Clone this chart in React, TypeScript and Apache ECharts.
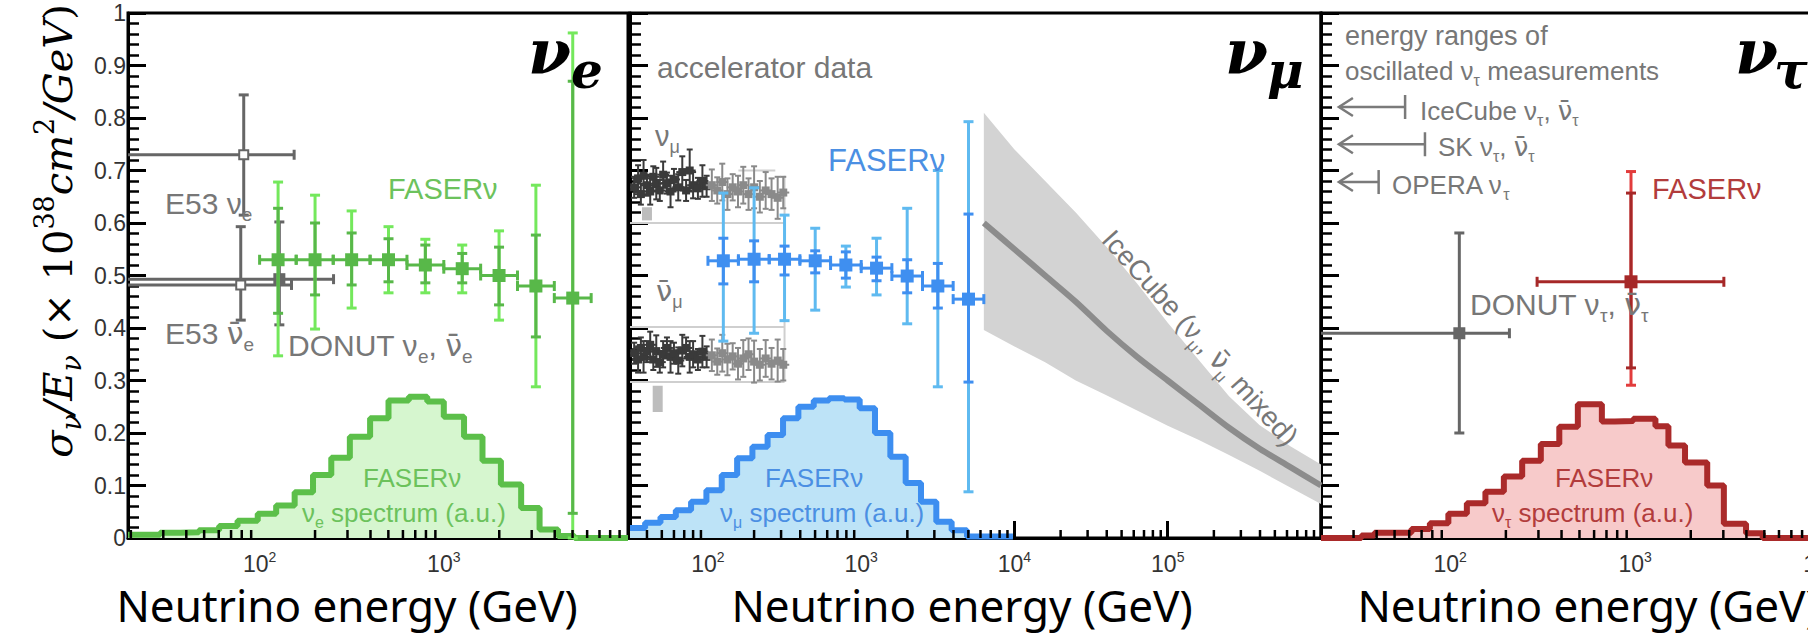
import React, { useEffect, useRef } from 'react';
import * as echarts from 'echarts';

// ---------------- data ----------------
const MINOR_MULT = [2, 3, 4, 5, 6, 7, 8, 9];
const P1_DECADES = [10, 100, 1000];
const P2_DECADES = [10, 100, 1000, 10000, 100000];
const P3_DECADES = [10, 100, 1000];

// FASERnu binning (GeV)
const FASER_X = [126, 200, 316, 501, 794, 1259, 1995, 3162, 5012];
const FASER_XLO = [100, 158, 251, 398, 631, 1000, 1585, 2512, 3981];
const FASER_XHI = [158, 251, 398, 631, 1000, 1585, 2512, 3981, 6310];

// nu_e
const NUE_Y = [0.53, 0.53, 0.53, 0.53, 0.52, 0.513, 0.5, 0.48, 0.457];
const NUE_STAT_LO = [0.428, 0.463, 0.482, 0.488, 0.486, 0.486, 0.444, 0.383, 0.047];
const NUE_STAT_HI = [0.628, 0.6, 0.581, 0.57, 0.558, 0.542, 0.554, 0.577, 0.87];
const NUE_TOT_LO = [0.347, 0.398, 0.438, 0.467, 0.467, 0.467, 0.415, 0.288, 0.0];
const NUE_TOT_HI = [0.678, 0.653, 0.623, 0.593, 0.569, 0.558, 0.585, 0.672, 0.962];

// nu_mu
const NUMU_Y = [0.528, 0.531, 0.531, 0.528, 0.52, 0.514, 0.499, 0.48, 0.455];
const NUMU_STAT_LO = [0.484, 0.488, 0.501, 0.505, 0.495, 0.49, 0.467, 0.438, 0.297];
const NUMU_STAT_HI = [0.571, 0.566, 0.556, 0.547, 0.545, 0.535, 0.53, 0.523, 0.617];
const NUMU_TOT_LO = [0.375, 0.39, 0.414, 0.434, 0.478, 0.463, 0.408, 0.288, 0.088];
const NUMU_TOT_HI = [0.657, 0.667, 0.615, 0.59, 0.556, 0.571, 0.628, 0.7, 0.793];

// nu_tau FASERnu: [x, y, xlo, xhi, statLo, statHi, totLo, totHi]
const NUTAU_FASER = [[950, 0.488, 295, 3020, 0.324, 0.657, 0.291, 0.698]];

// other experiments: [x, y, xlo, xhi, ylo, yhi, openMarker]
const E53_NUE = [82, 0.73, 10, 154, 0.615, 0.844, 1];
const E53_NUEBAR = [79, 0.482, 10, 149, 0.415, 0.593, 1];
const DONUT_NUE = [128, 0.493, 10, 252, 0.406, 0.602, 0];
const DONUT_NUTAU = [112, 0.39, 10, 209, 0.2, 0.581, 0];

// spectra (a.u.), step histograms: edges (GeV) and bin heights
const NUE_SPEC_EDGES = [19.3, 28.8, 37.2, 46.8, 60.3, 75.9, 97.7, 123, 155, 195, 245, 309, 398, 501, 646, 813, 1000, 1288, 1622, 2042, 2630, 3311, 4169, 5129, 10000];
const NUE_SPEC = [0.006, 0.01, 0.011, 0.015, 0.023, 0.033, 0.046, 0.062, 0.087, 0.12, 0.153, 0.193, 0.228, 0.262, 0.269, 0.26, 0.231, 0.193, 0.147, 0.102, 0.057, 0.016, 0.004, 0.0];
const NUMU_SPEC_EDGES = [31, 38.9, 49, 61.7, 77.6, 97.7, 123, 155, 195, 245, 309, 389, 490, 617, 776, 977, 1230, 1549, 1950, 2455, 3090, 3890, 4898, 9772];
const NUMU_SPEC = [0.019, 0.029, 0.04, 0.053, 0.069, 0.091, 0.12, 0.152, 0.174, 0.196, 0.228, 0.25, 0.262, 0.266, 0.264, 0.247, 0.2, 0.155, 0.105, 0.069, 0.031, 0.015, 0.003];
const NUTAU_SPEC_EDGES = [20, 33.1, 38.9, 61.7, 77.6, 97.7, 123, 155, 195, 245, 309, 389, 490, 661, 776, 977, 1288, 1514, 1862, 2455, 3020, 3981, 4898, 10000];
const NUTAU_SPEC = [0.0, 0.005, 0.01, 0.017, 0.028, 0.046, 0.066, 0.088, 0.117, 0.147, 0.179, 0.212, 0.255, 0.222, 0.223, 0.227, 0.213, 0.176, 0.144, 0.1, 0.027, 0.009, 0.0];

// IceCube band
const ICE_X = [6310, 10000, 15849, 25119, 39811, 63096, 100000, 158489, 251189, 398107, 630957, 1000000];
const ICE_UP = [0.81, 0.74, 0.68, 0.62, 0.555, 0.485, 0.41, 0.34, 0.27, 0.215, 0.175, 0.14];
const ICE_LO = [0.396, 0.365, 0.335, 0.3, 0.272, 0.243, 0.214, 0.187, 0.158, 0.128, 0.096, 0.065];
const ICE_MID = [0.6, 0.55, 0.5, 0.45, 0.395, 0.345, 0.3, 0.255, 0.21, 0.17, 0.135, 0.1];

// accelerator data: [x, y, err]
const ACC_NUMU = [
  [33, 0.668, 0.02], [35, 0.685, 0.025], [36.5, 0.655, 0.02], [38, 0.69, 0.03], [40, 0.672, 0.02],
  [42, 0.66, 0.025], [44, 0.688, 0.02], [46, 0.675, 0.03], [48.5, 0.662, 0.02], [51, 0.692, 0.025],
  [54, 0.676, 0.02], [57, 0.66, 0.03], [60, 0.683, 0.02], [64, 0.668, 0.025], [68, 0.697, 0.03],
  [72, 0.662, 0.02], [76, 0.7, 0.04], [80, 0.672, 0.025], [86, 0.666, 0.02], [92, 0.68, 0.03],
  [98, 0.67, 0.02], [106, 0.672, 0.03], [115, 0.662, 0.025], [124, 0.678, 0.035], [134, 0.655, 0.03],
  [145, 0.668, 0.025], [157, 0.66, 0.03], [170, 0.672, 0.035], [184, 0.655, 0.03], [200, 0.668, 0.04],
  [218, 0.65, 0.03], [238, 0.662, 0.035], [260, 0.655, 0.03], [285, 0.648, 0.04], [310, 0.658, 0.03],
];
const ACC_NUMUBAR = [
  [33, 0.352, 0.02], [35, 0.34, 0.025], [36.5, 0.362, 0.02], [38, 0.345, 0.03], [40, 0.355, 0.02],
  [42, 0.368, 0.025], [44, 0.34, 0.02], [46, 0.356, 0.03], [48.5, 0.335, 0.02], [51, 0.35, 0.025],
  [54, 0.362, 0.02], [57, 0.345, 0.03], [60, 0.352, 0.02], [64, 0.338, 0.025], [68, 0.357, 0.03],
  [72, 0.362, 0.02], [76, 0.345, 0.03], [80, 0.35, 0.025], [86, 0.34, 0.02], [92, 0.355, 0.03],
  [98, 0.345, 0.02], [106, 0.348, 0.03], [115, 0.336, 0.025], [124, 0.352, 0.035], [134, 0.34, 0.03],
  [145, 0.346, 0.025], [157, 0.332, 0.03], [170, 0.342, 0.035], [184, 0.35, 0.03], [200, 0.336, 0.04],
  [218, 0.33, 0.03], [238, 0.342, 0.035], [260, 0.332, 0.03], [285, 0.338, 0.04], [310, 0.33, 0.03],
];
// guide lines [x0, x1, y0, y1]
const ACC_LINES = [[31, 316, 0.6, 0.6], [31, 316, 0.402, 0.402], [31, 316, 0.297, 0.297], [158, 275, 0.7, 0.7], [316, 316, 0.3, 0.69]];
// grey boxes [x, ylo, yhi]
const ACC_BOXES = [[40, 0.605, 0.63], [47, 0.24, 0.29]];

// oscillated nu_tau energy ranges: [arrowTip, end, y]
const TAU_RANGES = [[25, 57, 0.821], [25, 73, 0.75], [25, 41, 0.678]];

// ---------------- styles ----------------
const SANS = 'Liberation Sans, Arial, Helvetica, sans-serif';
const GREEN = { line: '#5cbf4a', fill: '#d6f6cf', marker: '#58b849', inner: '#58b849', outer: '#74e85c', text: '#6cc25c' };
const BLUE = { line: '#3d8ef0', fill: '#bde3f7', marker: '#3f8ff0', inner: '#3f8ff0', outer: '#5fbaf0', text: '#4b8fe3' };
const RED = { line: '#aa2a2a', fill: '#f7caca', marker: '#a62828', inner: '#a62828', outer: '#e23c3c', text: '#b23c3c' };
const GREY = '#666';
const LABEL_GREY = '#777';

const RANGES = [[19.3, 10000], [31, 1000000], [20, 10000]];

function seg(x1: number, y1: number, x2: number, y2: number, stroke: string, w = 3) {
  return { type: 'line', shape: { x1, y1, x2, y2 }, style: { stroke, lineWidth: w } };
}

function faserRender(col: any) {
  return (params: any, api: any) => {
    const x = api.value(0), y = api.value(1);
    const c = api.coord([x, y]);
    const xl = api.coord([api.value(2), y])[0];
    const xh = api.coord([api.value(3), y])[0];
    const sl = api.coord([x, api.value(4)])[1];
    const sh = api.coord([x, api.value(5)])[1];
    const tl = api.coord([x, api.value(6)])[1];
    const th = api.coord([x, api.value(7)])[1];
    const cap = 5, m = 13;
    return {
      type: 'group',
      children: [
        seg(c[0], tl, c[0], th, col.outer),
        seg(c[0] - cap, tl, c[0] + cap, tl, col.outer),
        seg(c[0] - cap, th, c[0] + cap, th, col.outer),
        seg(c[0], sl, c[0], sh, col.inner),
        seg(c[0] - cap, sl, c[0] + cap, sl, col.inner),
        seg(c[0] - cap, sh, c[0] + cap, sh, col.inner),
        seg(xl, c[1], xh, c[1], col.inner),
        seg(xl, c[1] - cap, xl, c[1] + cap, col.inner),
        seg(xh, c[1] - cap, xh, c[1] + cap, col.inner),
        { type: 'rect', shape: { x: c[0] - m / 2, y: c[1] - m / 2, width: m, height: m }, style: { fill: col.marker } },
      ],
    };
  };
}

function greyRender(params: any, api: any) {
  const x = api.value(0), y = api.value(1);
  const c = api.coord([x, y]);
  const xl = api.coord([api.value(2), y])[0];
  const xh = api.coord([api.value(3), y])[0];
  const yl = api.coord([x, api.value(4)])[1];
  const yh = api.coord([x, api.value(5)])[1];
  const open = api.value(6) > 0.5;
  const cap = 5, m = open ? 9 : 12;
  const children: any[] = [
    seg(xl, c[1], xh, c[1], GREY),
    seg(xh, c[1] - cap, xh, c[1] + cap, GREY),
    seg(c[0], yl, c[0], yh, GREY),
    seg(c[0] - cap, yl, c[0] + cap, yl, GREY),
    seg(c[0] - cap, yh, c[0] + cap, yh, GREY),
  ];
  if (open) {
    children.push({ type: 'rect', shape: { x: c[0] - m / 2, y: c[1] - m / 2, width: m, height: m }, style: { fill: '#fff', stroke: GREY, lineWidth: 2 } });
    children.push(seg(c[0] - 3, c[1], c[0] + 3, c[1], '#fff', 1.5));
  } else {
    children.push({ type: 'rect', shape: { x: c[0] - m / 2, y: c[1] - m / 2, width: m, height: m }, style: { fill: GREY } });
  }
  return { type: 'group', children };
}

function accRender(params: any, api: any) {
  const x = api.value(0), y = api.value(1), e = api.value(2);
  const c = api.coord([x, y]);
  const lo = api.coord([x, y - e])[1];
  const hi = api.coord([x, y + e])[1];
  const col = x < 100 ? '#3a3a3a' : '#8a8a8a';
  return {
    type: 'group',
    children: [
      seg(c[0], lo, c[0], hi, col, 2),
      seg(c[0] - 3, lo, c[0] + 3, lo, col, 2),
      seg(c[0] - 3, hi, c[0] + 3, hi, col, 2),
      seg(c[0] - 6, c[1], c[0] + 6, c[1], col, 2),
      { type: 'rect', shape: { x: c[0] - 4, y: c[1] - 4, width: 8, height: 8 }, style: { fill: col } },
    ],
  };
}

function accLineRender(params: any, api: any) {
  const a = api.coord([api.value(0), api.value(2)]);
  const b = api.coord([api.value(1), api.value(3)]);
  return seg(a[0], a[1], b[0], b[1], '#cfcfcf', 2);
}

function accBoxRender(params: any, api: any) {
  const a = api.coord([api.value(0), api.value(2)]);
  const b = api.coord([api.value(0), api.value(1)]);
  return { type: 'rect', shape: { x: a[0] - 5, y: a[1], width: 10, height: b[1] - a[1] }, style: { fill: '#bdbdbd' } };
}

function bandRender(params: any, api: any) {
  const pts: number[][] = [];
  for (let i = 0; i < ICE_X.length; i++) pts.push(api.coord([ICE_X[i], ICE_UP[i]]));
  for (let i = ICE_X.length - 1; i >= 0; i--) pts.push(api.coord([ICE_X[i], ICE_LO[i]]));
  return { type: 'polygon', shape: { points: pts }, style: { fill: '#d3d3d3' } };
}

function arrowRender(params: any, api: any) {
  const y = api.value(2);
  const a = api.coord([api.value(0), y]);
  const b = api.coord([api.value(1), y]);
  const col = '#7a7a7a';
  return {
    type: 'group',
    children: [
      seg(a[0], a[1], b[0], b[1], col, 2.5),
      { type: 'polyline', shape: { points: [[a[0] + 14, a[1] - 9], [a[0], a[1]], [a[0] + 14, a[1] + 9]] }, style: { stroke: col, lineWidth: 2.5, fill: 'none' } },
      seg(b[0], b[1] - 12, b[0], b[1] + 12, col, 2.5),
    ],
  };
}

function minorTickRender(params: any, api: any) {
  const p = api.coord([api.value(0), 0]);
  return seg(p[0], p[1], p[0], p[1] - 8, '#000', 2.5);
}

function minorTicks(decades: number[], range: number[]) {
  const out: number[][] = [];
  decades.forEach((d) => MINOR_MULT.forEach((m) => {
    const v = d * m;
    if (v > range[0] && v < range[1]) out.push([v, 0]);
  }));
  return out;
}

function stepData(edges: number[], h: number[]) {
  return edges.map((e, i) => [e, h[Math.min(i, h.length - 1)]]);
}

function faserRows(y: number[], sl: number[], sh: number[], tl: number[], th: number[]) {
  return FASER_X.map((x, i) => [x, y[i], FASER_XLO[i], FASER_XHI[i], sl[i], sh[i], tl[i], th[i]]);
}

function xAxis(gi: number, hideMax: boolean) {
  const [min, max] = RANGES[gi];
  return {
    gridIndex: gi, type: 'log', logBase: 10, min, max,
    axisLine: { show: true, onZero: false, lineStyle: { color: '#000', width: 3 } },
    axisTick: { show: true, inside: true, length: 17, lineStyle: { color: '#000', width: 3 } },
    minorTick: { show: false },
    splitLine: { show: false },
    axisLabel: {
      show: true, margin: 12, color: '#333', fontFamily: SANS, fontSize: 23, lineHeight: 28,
      showMinLabel: true, showMaxLabel: true,
      formatter: (v: number) => {
        const L = Math.log10(v);
        const r = Math.round(L);
        if (Math.abs(L - r) > 1e-6) return '';
        if (hideMax && v >= max * 0.999) return '';
        return '10{s|' + r + '}';
      },
      rich: { s: { fontSize: 14, lineHeight: 14, verticalAlign: 'top', color: '#333', fontFamily: SANS } },
    },
  };
}

function yAxis(gi: number, labels: boolean) {
  return {
    gridIndex: gi, type: 'value', min: 0, max: 1, interval: 0.1,
    axisLine: { show: true, lineStyle: { color: '#000', width: 3 } },
    axisTick: { show: true, inside: true, length: 18, lineStyle: { color: '#000', width: 3 } },
    minorTick: { show: true, splitNumber: 5, length: 11, lineStyle: { color: '#000', width: 2.5 } },
    splitLine: { show: false },
    axisLabel: {
      show: labels, margin: 2, color: '#333', fontFamily: SANS, fontSize: 23,
      showMinLabel: true, showMaxLabel: true,
      formatter: (v: number) => String(+v.toFixed(1)),
    },
  };
}

function txt(x: number, y: number, text: string, size: number, fill: string, extra: any = {}) {
  const subSize = Math.round(size * 0.62);
  return {
    type: 'text', x, y, z: 50, silent: true, rotation: extra.rotation || 0,
    style: {
      text, fill, fontSize: size, fontFamily: extra.family || SANS,
      fontWeight: extra.weight || 'normal', fontStyle: extra.fstyle || 'normal',
      lineHeight: extra.lineHeight || Math.round(size * 1.35),
      align: extra.align || 'left', textAlign: extra.align || 'left',
      verticalAlign: 'middle', textVerticalAlign: 'middle',
      rich: {
        s: { fontSize: subSize, lineHeight: Math.round(size * 0.55), verticalAlign: 'bottom', fill, fontFamily: SANS },
        o: { fontSize: size, lineHeight: Math.round(size * 1.35), fill, fontFamily: 'DejaVu Sans, sans-serif' },
      },
    },
  };
}

function titleParts(x: number, sx: number, sub: string) {
  const base = {
    fill: '#000', fontFamily: 'DejaVu Serif, serif', fontWeight: 'bold', fontStyle: 'italic',
    align: 'left', textAlign: 'left', verticalAlign: 'middle', textVerticalAlign: 'middle',
  };
  return [
    { type: 'text', x, y: 51, z: 50, silent: true, style: { ...base, text: 'ν', fontSize: 62 } },
    { type: 'text', x: sx, y: 70, z: 50, silent: true, style: { ...base, text: sub, fontSize: 50 } },
  ];
}

function buildOption() {
  const histSeries = (gi: number, edges: number[], h: number[], col: any) => ({
    type: 'line', xAxisIndex: gi, yAxisIndex: gi, step: 'end', symbol: 'none', clip: false, silent: true,
    data: stepData(edges, h),
    lineStyle: { color: col.line, width: 6 },
    areaStyle: { color: col.fill, opacity: 1 },
    z: 2,
  });
  const custom = (gi: number, data: any[], renderItem: any, extra: any = {}) => ({
    type: 'custom', xAxisIndex: gi, yAxisIndex: gi, data, renderItem, silent: true, z: 3, ...extra,
  });

  const nameText = (cx: number) => ({
    type: 'text', x: cx, y: 605, z: 50, silent: true,
    style: {
      text: 'Neutrino energy (GeV)', fill: '#000', fontSize: 44, fontFamily: 'Noto Sans, Open Sans, sans-serif',
      align: 'center', textAlign: 'center', verticalAlign: 'middle', textVerticalAlign: 'middle',
    },
  });

  const yTitleStyle = { fontFamily: 'DejaVu Serif, serif', fill: '#000', color: '#000' };
  const yTitle = {
    type: 'text', x: 58, y: 231, z: 50, silent: true, rotation: Math.PI / 2,
    style: {
      text: '{i|σ}{is|ν}{i|/E}{is|ν}{r| (× 10}{rs|38}{i|cm}{rs|2}{i|/GeV}{r|)}',
      fill: '#000', fontSize: 40, fontFamily: 'DejaVu Serif, serif',
      align: 'center', textAlign: 'center', verticalAlign: 'middle', textVerticalAlign: 'middle',
      rich: {
        i: { ...yTitleStyle, fontStyle: 'italic', fontSize: 40, lineHeight: 54 },
        r: { ...yTitleStyle, fontStyle: 'normal', fontSize: 40, lineHeight: 54 },
        is: { ...yTitleStyle, fontStyle: 'italic', fontSize: 27, lineHeight: 26, verticalAlign: 'bottom' },
        rs: { ...yTitleStyle, fontStyle: 'normal', fontSize: 27, lineHeight: 26, verticalAlign: 'top' },
      },
    },
  };

  const ov = '{o|ν\u0304}';
  const gridBase = { top: 13, height: 525, show: true, borderColor: '#000', borderWidth: 3, backgroundColor: 'transparent', containLabel: false, outerBoundsMode: 'none' };

  return {
    animation: false,
    backgroundColor: '#fff',
    grid: [
      { ...gridBase, left: 128, width: 500 },
      { ...gridBase, left: 630, width: 691 },
      { ...gridBase, left: 1321, width: 499 },
    ],
    xAxis: [xAxis(0, true), xAxis(1, true), xAxis(2, false)],
    yAxis: [yAxis(0, true), yAxis(1, false), yAxis(2, false)],
    series: [
      histSeries(0, NUE_SPEC_EDGES, NUE_SPEC, GREEN),
      histSeries(1, NUMU_SPEC_EDGES, NUMU_SPEC, BLUE),
      histSeries(2, NUTAU_SPEC_EDGES, NUTAU_SPEC, RED),
      custom(1, [[ICE_X[0], ICE_LO[0]]], bandRender, { clip: true }),
      {
        type: 'line', xAxisIndex: 1, yAxisIndex: 1, symbol: 'none', smooth: 0.3, silent: true, z: 3,
        data: ICE_X.map((x, i) => [x, ICE_MID[i]]),
        lineStyle: { color: '#8c8c8c', width: 6 },
      },
      custom(1, ACC_LINES, accLineRender, { encode: { x: [0, 1], y: [2, 3] } }),
      custom(1, ACC_BOXES, accBoxRender, { encode: { x: 0, y: [1, 2] } }),
      custom(1, ACC_NUMU, accRender, { clip: true }),
      custom(1, ACC_NUMUBAR, accRender, { clip: true }),
      custom(0, [E53_NUE, E53_NUEBAR, DONUT_NUE], greyRender, { clip: true, z: 4 }),
      custom(2, [DONUT_NUTAU], greyRender, { clip: true, z: 4 }),
      custom(2, TAU_RANGES, arrowRender, { encode: { x: [0, 1], y: 2 } }),
      custom(0, faserRows(NUE_Y, NUE_STAT_LO, NUE_STAT_HI, NUE_TOT_LO, NUE_TOT_HI), faserRender(GREEN), { z: 5 }),
      custom(1, faserRows(NUMU_Y, NUMU_STAT_LO, NUMU_STAT_HI, NUMU_TOT_LO, NUMU_TOT_HI), faserRender(BLUE), { z: 5 }),
      custom(2, NUTAU_FASER, faserRender(RED), { z: 5 }),
      custom(0, minorTicks(P1_DECADES, RANGES[0]), minorTickRender, { z: 10 }),
      custom(1, minorTicks(P2_DECADES, RANGES[1]), minorTickRender, { z: 10 }),
      custom(2, minorTicks(P3_DECADES, RANGES[2]), minorTickRender, { z: 10 }),
    ],
    graphic: {
      elements: [
        yTitle,
        nameText(347), nameText(962), nameText(1588),
        ...titleParts(528, 571, 'e'), ...titleParts(1225, 1267, 'μ'), ...titleParts(1735, 1774, 'τ'),
        // panel 1
        txt(388, 189, 'FASERν', 29, GREEN.text),
        txt(165, 203, 'E53 ν{s|e}', 30, LABEL_GREY),
        txt(165, 333, 'E53 ' + ov + '{s|e}', 30, LABEL_GREY),
        txt(288, 345, 'DONUT ν{s|e}, ' + ov + '{s|e}', 30, LABEL_GREY),
        txt(363, 478, 'FASERν', 26, GREEN.text),
        txt(302, 513, 'ν{s|e} spectrum (a.u.)', 26, GREEN.text),
        // panel 2
        txt(657, 67, 'accelerator data', 30, LABEL_GREY),
        txt(655, 136, 'ν{s|μ}', 29, LABEL_GREY),
        txt(656, 291, ov + '{s|μ}', 29, LABEL_GREY),
        txt(828, 160, 'FASERν', 31, BLUE.text),
        txt(765, 478, 'FASERν', 26, BLUE.text),
        txt(720, 513, 'ν{s|μ} spectrum (a.u.)', 26, BLUE.text),
        txt(1200, 338, 'IceCube (ν{s|μ}, ' + ov + '{s|μ} mixed)', 28, LABEL_GREY, { align: 'center', rotation: -0.84 }),
        // panel 3
        txt(1345, 36, 'energy ranges of', 27, LABEL_GREY),
        txt(1345, 71, 'oscillated ν{s|τ} measurements', 26, LABEL_GREY),
        txt(1420, 111, 'IceCube ν{s|τ}, ' + ov + '{s|τ}', 26, LABEL_GREY),
        txt(1438, 147, 'SK ν{s|τ}, ' + ov + '{s|τ}', 26, LABEL_GREY),
        txt(1392, 185, 'OPERA ν{s|τ}', 26, LABEL_GREY),
        txt(1652, 189, 'FASERν', 29, RED.text),
        txt(1470, 304, 'DONUT ν{s|τ}, ' + ov + '{s|τ}', 30, LABEL_GREY),
        txt(1555, 478, 'FASERν', 26, RED.text),
        txt(1492, 513, 'ν{s|τ} spectrum (a.u.)', 26, RED.text),
      ],
    },
  };
}

export default function App() {
  const ref = useRef<HTMLDivElement>(null);
  useEffect(() => {
    if (!ref.current) return;
    const chart = echarts.init(ref.current, undefined, { renderer: 'svg' });
    chart.setOption(buildOption() as any);
    return () => chart.dispose();
  }, []);
  return (
    <div
      ref={ref}
      style={{ position: 'fixed', left: 0, top: 0, width: 1808, height: 640, background: '#fff', overflow: 'hidden' }}
    />
  );
}
